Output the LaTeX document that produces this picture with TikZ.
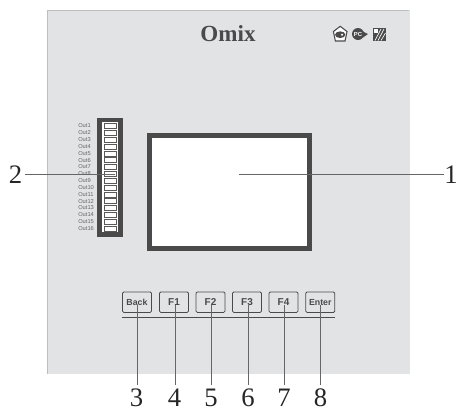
\documentclass[tikz,border=0pt]{standalone}
\usepackage{fontspec}
\setmainfont{Liberation Serif}
\setsansfont{Liberation Sans}
\definecolor{panel}{HTML}{E2E3E5}
\definecolor{paneledge}{HTML}{BDBEC0}
\definecolor{ink}{HTML}{4A4A4A}
\tikzset{
  callout/.style={draw=black!60,line width=0.75pt},
  numlabel/.style={font=\fontsize{20}{20}\selectfont,text=black!85,inner sep=0pt},
  fkey/.style={draw=ink,line width=0.6pt,rounded corners=1pt,minimum width=21.8pt,minimum height=15.4pt,inner sep=0pt,font=\sffamily\bfseries\fontsize{7.5}{8}\selectfont,text=ink},
  outlabel/.style={font=\sffamily\fontsize{4.3}{4.5}\selectfont,text=black!60,inner sep=0pt,anchor=west},
  led/.style={draw=black!65,fill=white,line width=0.35pt,minimum width=9.2pt,minimum height=3.8pt,inner sep=0pt}
}
\begin{document}
\begin{tikzpicture}[x=0.75pt,y=-0.75pt]
\useasboundingbox (0,0) rectangle (456,408);
\fill[panel] (47,10) rectangle (410,374);
\draw[paneledge,line width=0.6pt] (47.4,374) -- (47.4,10.4) -- (409,10.4);
\node[font=\bfseries\fontsize{17.3}{17}\selectfont,text=ink,inner sep=0pt] (title) at (228,34) {Omix};
% screen
\node[draw=ink,line width=3.6pt,fill=white,minimum width=120pt,minimum height=84.5pt,inner sep=0pt] (screen) at (229.2,192.2) {};
% LED strip
\node[draw=ink,line width=3.4pt,fill=white,minimum width=15.4pt,minimum height=86pt,inner sep=0pt] (strip) at (110,177.4) {};
\foreach \i [evaluate=\i as \yy using {126+(\i-1)*6.83}] in {1,...,16}{
  \node[led] (led\i) at (110,\yy) {};
  \node[outlabel] (out\i) at (78,\yy) {Out\i};
}
% approval marks
\draw[ink,line width=0.8pt,fill=white] (340.2,26.3) -- (347,31.5) -- (345,41) -- (335.4,41) -- (333.4,31.5) -- cycle;
\fill[ink] (340.2,34.7) ellipse (3.9pt and 2.5pt);
\fill[white] (342,34.7) circle (0.9pt);
\fill[ink] (358,34) circle (4.5pt);
\node[font=\sffamily\bfseries\fontsize{4.4}{4}\selectfont,text=white,inner sep=0pt] (pct) at (358,34) {PC};
\fill[ink] (362,31) -- (368,34) -- (363,37.5) -- cycle;
\fill[black!70] (373,28) rectangle (385.5,40.5);
\fill[white] (373.5,28.5) rectangle (378,32.5);
\draw[white,line width=0.5pt] (375,40.5) -- (381,29) (378,40.5) -- (384,29) (381,40.5) -- (385.5,33);
% keys
\node[fkey] (kback) at (137,302.2) {\fontsize{6.6}{7}\selectfont Back};
\node[fkey] (kf1) at (174,302.2) {F1};
\node[fkey] (kf2) at (210.5,302.2) {F2};
\node[fkey] (kf3) at (247,302.2) {F3};
\node[fkey] (kf4) at (283.5,302.2) {F4};
\node[fkey] (kenter) at (320.3,302.2) {\fontsize{6.6}{7}\selectfont Enter};
\coordinate (ruleL) at (122,317);
\coordinate (ruleR) at (335,317);
\draw[ink,line width=0.7pt] (ruleL) -- (ruleR);
% numbers
\node[numlabel] (n1) at (451,174.7) {1};
\node[numlabel] (n2) at (15.5,174.7) {2};
\node[numlabel] (n3) at (136.5,398) {3};
\node[numlabel] (n4) at (174.5,398) {4};
\node[numlabel] (n5) at (211,398) {5};
\node[numlabel] (n6) at (248,398) {6};
\node[numlabel] (n7) at (284,398) {7};
\node[numlabel] (n8) at (320.5,398) {8};
\coordinate (c1) at (239,174.7);
\coordinate (c2) at (115,174.7);
\draw[callout] (n1.west) -- (c1);
\draw[callout] (n2.east) ++(2pt,0) -- (c2);
\foreach \n/\k/\x in {3/kback/137,4/kf1/175,5/kf2/211,6/kf3/248,7/kf4/284,8/kenter/320}{
  \coordinate (t\n) at (\x,305);
  \coordinate (b\n) at (\x,385);
  \draw[callout] (t\n) -- (b\n);
}
\end{tikzpicture}
\end{document}
